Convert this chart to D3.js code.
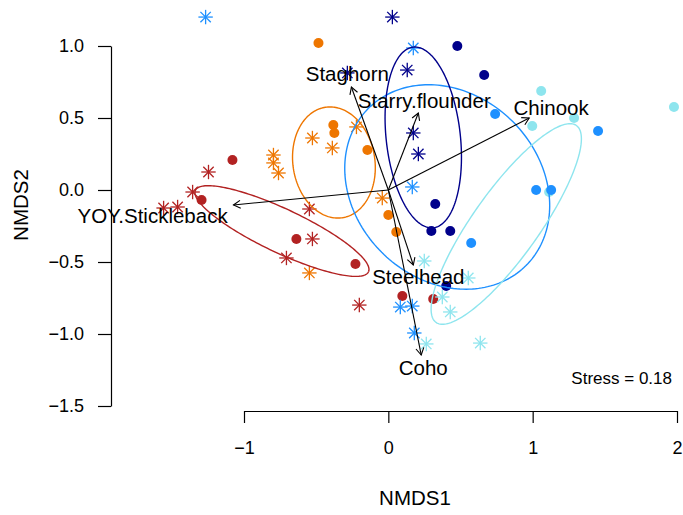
<!DOCTYPE html>
<html>
<head>
<meta charset="utf-8">
<script src="https://cdn.jsdelivr.net/npm/d3@7"></script>
<style>
  body { margin: 0; background: #fff; }
  svg { display: block; }
  text { font-family: "Liberation Sans", Arial, Helvetica, sans-serif; fill: #000; }
</style>
</head>
<body>
<svg id="chart" width="683" height="515"></svg>
<script>
// NMDS site scores, one pair of arrays per group: filled circles and asterisks
const circlesA = [[-1.080, 0.208], [-1.294, -0.069], [-0.637, -0.340], [-0.228, -0.514], [0.097, -0.736], [0.311, -0.757]];
const starsA   = [[-1.557, -0.125], [-1.460, -0.118], [-1.356, -0.014], [-1.246, 0.125], [-0.547, -0.132], [-0.526, -0.340], [-0.706, -0.472], [-0.201, -0.799]];
const circlesB = [[-0.484, 1.021], [-0.381, 0.451], [-0.374, 0.396], [-0.145, 0.278], [0.000, -0.174], [0.055, -0.292]];
const starsB   = [[-0.796, 0.243], [-0.796, 0.188], [-0.761, 0.118], [-0.526, 0.361], [-0.388, 0.292], [-0.221, 0.438], [-0.042, -0.056], [-0.547, -0.576]];
const circlesE = [[1.059, 0.688], [1.979, 0.576], [0.997, 0.444], [1.287, 0.500], [1.114, -0.014]];
const starsE   = [[0.249, -0.493], [0.554, -0.611], [0.374, -0.743], [0.429, -0.847], [0.263, -1.069], [0.637, -1.063]];
const circlesD = [[0.478, 1.000], [0.664, 0.799], [0.325, -0.097], [0.298, -0.285], [0.429, -0.285], [0.401, -0.667]];
const starsD   = [[0.028, 1.201], [0.131, 0.833], [-0.284, 0.813], [0.173, 0.396], [0.208, 0.250]];
const circlesC = [[0.740, 0.528], [1.453, 0.410], [1.024, 0.000], [1.128, 0.000], [0.574, -0.368]];
const starsC   = [[-1.266, 1.201], [0.173, 0.986], [0.166, 0.021], [0.083, -0.813], [0.166, -0.806], [0.180, -0.993]];

// group colours (A..E)
const groupColors = { A: "#B22222", B: "#EE7600", C: "#1E90FF", D: "#00008B", E: "#8EE5EE" };

// group dispersion ellipses: centre, semi-axes and rotation (degrees), order A..E
const ellipseGroups = ["A", "B", "C", "D", "E"];
const ellipseCx     = [-0.737, -0.377, 0.408, 0.242, 0.817];
const ellipseCy     = [-0.285, 0.191, 0.021, 0.365, -0.236];
const ellipseA      = [0.663, 0.388, 0.772, 0.631, 0.839];
const ellipseB      = [0.152, 0.284, 0.642, 0.257, 0.229];
const ellipseAngle  = [-25.3, 98.7, -45, 96.3, 54.6];

// fitted species vectors and their label positions
const vectorNames = ["Staghorn", "Starry.flounder", "Chinook", "YOY.Stickleback", "Steelhead", "Coho"];
const vectorX     = [-0.256, 0.208, 0.976, -1.073, 0.173, 0.228];
const vectorY     = [0.715, 0.535, 0.500, -0.104, -0.521, -1.146];
const labelX      = [-0.284, 0.249, 1.128, -1.633, 0.208, 0.242];
const labelY      = [0.812, 0.625, 0.576, -0.174, -0.604, -1.236];

// axes
const xTicks = [-1, 0, 1, 2];
const yTicks = [-1.5, -1.0, -0.5, 0.0, 0.5, 1.0];
const xTitle = "NMDS1";
const yTitle = "NMDS2";
const stress = 0.18;

const svg = d3.select("#chart");
const x = d3.scaleLinear().domain([-1, 2]).range([244, 677]);
const y = d3.scaleLinear().domain([-1.5, 1]).range([406, 46]);

// axes
const yAxis = d3.axisLeft(y).tickValues(yTicks).tickFormat(d3.format(".1f"))
  .tickSize(13).tickSizeOuter(0).tickPadding(14);
const gy = svg.append("g").attr("transform", "translate(111,0)").call(yAxis);
const xAxis = d3.axisBottom(x).tickValues(xTicks).tickFormat(d3.format("d"))
  .tickSize(12).tickSizeOuter(0).tickPadding(18);
const gx = svg.append("g").attr("transform", "translate(0,411)").call(xAxis);
[gx, gy].forEach(g => {
  g.selectAll("path.domain").attr("stroke", "#000").attr("stroke-width", 1.2);
  g.selectAll(".tick line").attr("stroke", "#000").attr("stroke-width", 1.2);
  g.selectAll(".tick text").attr("font-size", 18).attr("fill", "#000")
    .style("font-family", '"Liberation Sans", Arial, Helvetica, sans-serif');
});

svg.append("text").attr("x", 415).attr("y", 505).attr("text-anchor", "middle")
  .attr("font-size", 20.5).text(xTitle);
svg.append("text").attr("transform", "translate(28,205) rotate(-90)").attr("text-anchor", "middle")
  .attr("font-size", 20.5).text(yTitle);

// points
const plotLayer = svg.append("g");
function drawCircles(data, key) {
  plotLayer.selectAll(null).data(data).enter().append("circle")
    .attr("cx", d => x(d[0])).attr("cy", d => y(d[1])).attr("r", 5)
    .attr("fill", groupColors[key]);
}
function drawStars(data, key) {
  const r = 7.2;
  const arms = [[r, 0], [0, r], [r * 0.72, r * 0.72], [r * 0.72, -r * 0.72]];
  const g = plotLayer.selectAll(null).data(data).enter().append("g")
    .attr("transform", d => `translate(${x(d[0])},${y(d[1])})`);
  arms.forEach(a => {
    g.append("line").attr("x1", -a[0]).attr("y1", -a[1]).attr("x2", a[0]).attr("y2", a[1])
      .attr("stroke", groupColors[key]).attr("stroke-width", 1.3);
  });
}
drawCircles(circlesA, "A"); drawStars(starsA, "A");
drawCircles(circlesB, "B"); drawStars(starsB, "B");
drawCircles(circlesE, "E"); drawStars(starsE, "E");
drawCircles(circlesD, "D"); drawStars(starsD, "D");
drawCircles(circlesC, "C"); drawStars(starsC, "C");

// ellipses
const ellipseLine = d3.line().x(p => x(p[0])).y(p => y(p[1]));
ellipseGroups.forEach((key, i) => {
  const th = ellipseAngle[i] * Math.PI / 180;
  const pts = d3.range(0, 201).map(k => {
    const t = k / 200 * 2 * Math.PI;
    const dx = ellipseA[i] * Math.cos(t), dy = ellipseB[i] * Math.sin(t);
    return [ellipseCx[i] + dx * Math.cos(th) - dy * Math.sin(th),
            ellipseCy[i] + dx * Math.sin(th) + dy * Math.cos(th)];
  });
  svg.append("path").attr("d", ellipseLine(pts)).attr("fill", "none")
    .attr("stroke", groupColors[key]).attr("stroke-width", 1.4);
});

// vectors
const arrowLayer = svg.append("g");
vectorNames.forEach((name, i) => {
  const x0 = x(0), y0 = y(0), x1 = x(vectorX[i]), y1 = y(vectorY[i]);
  arrowLayer.append("line").attr("x1", x0).attr("y1", y0).attr("x2", x1).attr("y2", y1)
    .attr("stroke", "#000").attr("stroke-width", 1.1);
  const ang = Math.atan2(y1 - y0, x1 - x0), len = 8, spread = Math.PI / 6;
  const head = [[x1 - len * Math.cos(ang - spread), y1 - len * Math.sin(ang - spread)],
                [x1, y1],
                [x1 - len * Math.cos(ang + spread), y1 - len * Math.sin(ang + spread)]];
  arrowLayer.append("path").attr("d", d3.line()(head)).attr("fill", "none")
    .attr("stroke", "#000").attr("stroke-width", 1.1);
  arrowLayer.append("text").attr("x", x(labelX[i])).attr("y", y(labelY[i]))
    .attr("text-anchor", "middle").attr("dominant-baseline", "central")
    .attr("font-size", 20.5).text(name);
});

svg.append("text").attr("x", 672).attr("y", 384).attr("text-anchor", "end")
  .attr("font-size", 17).text(`Stress = ${stress.toFixed(2)}`);
</script>
</body>
</html>
